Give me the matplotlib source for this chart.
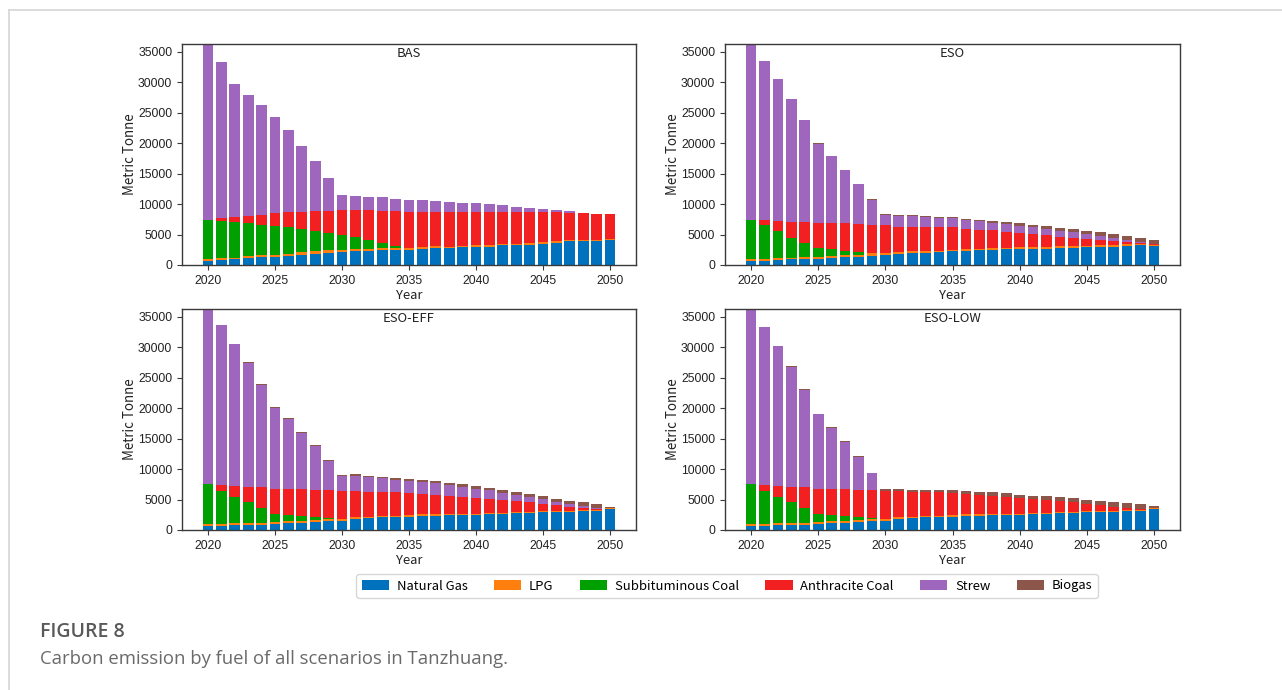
import matplotlib
matplotlib.use("Agg")
import matplotlib.pyplot as plt
from matplotlib.patches import Patch
from matplotlib.lines import Line2D

# ---------------------------------------------------------------- data
years = list(range(2020, 2051))
fuels = ["Natural Gas", "LPG", "Subbituminous Coal", "Anthracite Coal", "Strew", "Biogas"]
fuel_colors = ["#0072BD", "#FF7F0E", "#00A000", "#F22020", "#9E66BD", "#8C564B"]
scenarios = ["BAS", "ESO", "ESO-EFF", "ESO-LOW"]

# BAS scenario (metric tonne)
bas_natural_gas = [700, 820, 930, 1100, 1260, 1370, 1540, 1700, 1865, 2030, 2140, 2300, 2360, 2410, 2410, 2470,
                   2630, 2740, 2740, 2900, 3020, 3020, 3240, 3290, 3350, 3510, 3680, 3900, 3900, 4000, 4170]
bas_lpg = [250, 260, 280, 300, 310, 320, 340, 360, 380, 400, 380, 360, 350, 340, 330, 320,
           310, 300, 290, 280, 270, 260, 250, 240, 230, 220, 210, 200, 190, 180, 170]
bas_subbituminous = [6460, 6160, 5870, 5510, 5070, 4780, 4320, 3810, 3300, 2780, 2360, 1890, 1460, 930, 440, 0,
                     0, 0, 0, 0, 0, 0, 0, 0, 0, 0, 0, 0, 0, 0, 0]
bas_anthracite = [0, 490, 770, 1150, 1590, 2030, 2470, 2910, 3400, 3730, 4220, 4550, 4940, 5270, 5760, 5990,
                  5840, 5740, 5750, 5600, 5490, 5500, 5290, 5250, 5140, 4970, 4770, 4460, 4410, 4200, 4000]
bas_strew = [29600, 25570, 21890, 19920, 18050, 15800, 13440, 10810, 8170, 5430, 2470, 2300, 2140, 2140, 1980, 1860,
             1860, 1700, 1530, 1370, 1370, 1200, 1100, 770, 660, 520, 390, 330, 110, 70, 0]
bas_biogas = [0] * 31

# ESO scenario
eso_natural_gas = [700, 700, 880, 930, 1040, 1040, 1210, 1320, 1370, 1540, 1700, 1760, 1920, 1975, 2085, 2250,
                   2300, 2410, 2470, 2580, 2630, 2690, 2690, 2850, 2850, 2900, 3020, 3020, 3180, 3240, 3150]
eso_lpg = [250, 250, 260, 270, 280, 300, 320, 330, 340, 350, 330, 320, 310, 300, 290, 280,
           280, 270, 260, 260, 250, 240, 240, 230, 220, 220, 210, 200, 200, 190, 180]
eso_subbituminous = [6460, 5580, 4510, 3240, 2360, 1510, 1100, 650, 430, 150, 0, 0, 0, 0, 0, 0,
                     0, 0, 0, 0, 0, 0, 0, 0, 0, 0, 0, 0, 0, 0, 0]
eso_anthracite = [0, 880, 1540, 2630, 3400, 4110, 4330, 4550, 4610, 4600, 4610, 4230, 4080, 4030, 3820, 3670,
                  3350, 3140, 2980, 2650, 2440, 2230, 2060, 1580, 1430, 1210, 890, 790, 410, 200, 50]
eso_strew = [29590, 26170, 23370, 20190, 16680, 12960, 10870, 8700, 6500, 4090, 1610, 1740, 1720, 1560, 1470, 1450,
             1420, 1350, 1210, 1180, 1140, 1000, 970, 980, 850, 760, 720, 420, 290, 110, 100]
eso_biogas = [0, 0, 0, 0, 0, 100, 100, 80, 80, 80, 150, 180, 200, 200, 230, 250,
              280, 300, 330, 360, 400, 430, 460, 500, 520, 560, 600, 620, 640, 650, 700]

# ESO-EFF scenario
eff_natural_gas = [660, 710, 770, 770, 880, 930, 1100, 1210, 1260, 1430, 1540, 1810, 1920, 2090, 2090, 2200,
                   2360, 2360, 2470, 2470, 2470, 2640, 2640, 2750, 2750, 2970, 2970, 2970, 3130, 3130, 3400]
eff_lpg = [250, 300, 300, 320, 320, 340, 350, 330, 320, 300, 300, 280, 270, 260, 260, 250,
           250, 250, 240, 240, 240, 230, 230, 220, 220, 210, 210, 200, 200, 200, 150]
eff_subbituminous = [6620, 5420, 4430, 3470, 2480, 1420, 1020, 770, 560, 250, 0, 0, 0, 0, 0, 0,
                     0, 0, 0, 0, 0, 0, 0, 0, 0, 0, 0, 0, 0, 0, 0]
eff_anthracite = [0, 880, 1650, 2580, 3350, 4120, 4340, 4400, 4400, 4560, 4590, 4340, 4070, 3910, 3910, 3650,
                  3270, 3160, 2900, 2790, 2570, 2240, 2080, 1810, 1590, 1110, 890, 680, 300, 150, 0]
eff_strew = [29470, 26380, 23460, 20240, 16770, 13270, 11440, 9250, 7300, 4850, 2460, 2440, 2390, 2220, 1970, 2010,
             2060, 1870, 1740, 1600, 1520, 1390, 1200, 1010, 890, 820, 580, 450, 370, 150, 0]
eff_biogas = [0, 0, 0, 200, 100, 80, 150, 150, 120, 100, 120, 250, 250, 250, 280, 300,
              300, 330, 350, 380, 400, 420, 450, 470, 480, 500, 520, 540, 560, 600, 190]

# ESO-LOW scenario
low_natural_gas = [660, 710, 770, 770, 880, 930, 1100, 1210, 1260, 1430, 1540, 1810, 1920, 2090, 2090, 2200,
                   2360, 2360, 2470, 2470, 2470, 2640, 2640, 2750, 2750, 2970, 2970, 2970, 3130, 3130, 3400]
low_lpg = [250, 300, 300, 320, 320, 340, 350, 330, 320, 300, 300, 280, 270, 260, 260, 250,
           250, 250, 240, 240, 240, 230, 230, 220, 220, 210, 210, 200, 200, 200, 150]
low_subbituminous = [6620, 5420, 4430, 3470, 2430, 1420, 1020, 770, 560, 250, 0, 0, 0, 0, 0, 0,
                     0, 0, 0, 0, 0, 0, 0, 0, 0, 0, 0, 0, 0, 0, 0]
low_anthracite = [0, 880, 1650, 2580, 3410, 4120, 4340, 4400, 4400, 4560, 4590, 4340, 4020, 3860, 3860, 3650,
                  3270, 3160, 2900, 2790, 2620, 2240, 2080, 1810, 1590, 1110, 890, 680, 300, 80, 0]
low_strew = [29470, 26100, 23130, 19580, 16010, 12310, 10020, 7760, 5410, 2760, 0, 0, 0, 0, 0, 0,
             0, 0, 0, 0, 0, 0, 0, 0, 0, 0, 0, 0, 0, 0, 0]
low_biogas = [0, 0, 0, 150, 150, 0, 150, 150, 250, 100, 330, 330, 390, 390, 390, 500,
              550, 490, 550, 500, 500, 550, 600, 600, 660, 710, 660, 710, 770, 880, 400]

scenario_series = {
    "BAS": [bas_natural_gas, bas_lpg, bas_subbituminous, bas_anthracite, bas_strew, bas_biogas],
    "ESO": [eso_natural_gas, eso_lpg, eso_subbituminous, eso_anthracite, eso_strew, eso_biogas],
    "ESO-EFF": [eff_natural_gas, eff_lpg, eff_subbituminous, eff_anthracite, eff_strew, eff_biogas],
    "ESO-LOW": [low_natural_gas, low_lpg, low_subbituminous, low_anthracite, low_strew, low_biogas],
}

# ---------------------------------------------------------------- style
W, H = 1282, 690
label_font = ["Noto Sans CJK SC", "DejaVu Sans"]
tick_font = "Liberation Sans"
plt.rcParams["axes.edgecolor"] = "#3a3a3a"
plt.rcParams["xtick.color"] = "#3a3a3a"
plt.rcParams["ytick.color"] = "#3a3a3a"

fig = plt.figure(figsize=(W / 100, H / 100), dpi=100)
fig.patch.set_facecolor("white")

# axes boxes in pixels: (left, top, right, bottom)
boxes = [(182, 44, 636, 265), (725, 44, 1180, 265),
         (182, 309, 636, 530), (725, 309, 1180, 530)]

for name, (l, t, r, b) in zip(scenarios, boxes):
    ax = fig.add_axes([l / W, 1 - b / H, (r - l) / W, (b - t) / H])
    bottom = [0.0] * len(years)
    for values, color in zip(scenario_series[name], fuel_colors):
        ax.bar(years, values, width=0.8, bottom=bottom, color=color, linewidth=0)
        bottom = [bt + v for bt, v in zip(bottom, values)]
    ax.set_ylim(0, 36300)
    ax.set_yticks(range(0, 35001, 5000))
    ax.set_xticks(range(2020, 2051, 5))
    for lab in ax.get_xticklabels() + ax.get_yticklabels():
        lab.set_fontfamily(tick_font)
        lab.set_fontsize(8.8)
        lab.set_color("#222222")
    ax.set_xlabel("Year", fontfamily=label_font, fontsize=9.4, color="#222222", labelpad=2)
    ax.set_ylabel("Metric Tonne", fontfamily=label_font, fontsize=9.6, color="#222222", labelpad=1)
    ax.text(0.5, 0.958, name, transform=ax.transAxes, ha="center", va="center",
            fontfamily=label_font, fontsize=9.4, color="#222222")
    for sp in ax.spines.values():
        sp.set_linewidth(1.0)

handles = [Patch(facecolor=c, edgecolor="none") for c in fuel_colors]
fig.legend(handles, fuels, loc="center", bbox_to_anchor=(727 / W, 1 - 586 / H), ncol=6,
           prop={"family": label_font, "size": 9.4}, frameon=True, fancybox=True,
           edgecolor="#cccccc", handlelength=2.1, handleheight=0.9, columnspacing=2.0,
           borderpad=0.4, handletextpad=0.6)

# page frame
fig.add_artist(Line2D([9 / W, 1], [1 - 10 / H, 1 - 10 / H], transform=fig.transFigure,
                      color="#d6d6d6", lw=1.2))
fig.add_artist(Line2D([9 / W, 9 / W], [0, 1 - 10 / H], transform=fig.transFigure,
                      color="#d6d6d6", lw=1.2))

# caption
fig.text(40 / W, 1 - 632 / H, "FIGURE 8", ha="left", va="center", fontfamily="Open Sans",
         fontweight="semibold", fontsize=14, color="#595959")
fig.text(40 / W, 1 - 659 / H, "Carbon emission by fuel of all scenarios in Tanzhuang.", ha="left",
         va="center", fontfamily="Open Sans", fontsize=13.3, color="#6a6a6a")

fig.savefig("out.png", dpi=100)
